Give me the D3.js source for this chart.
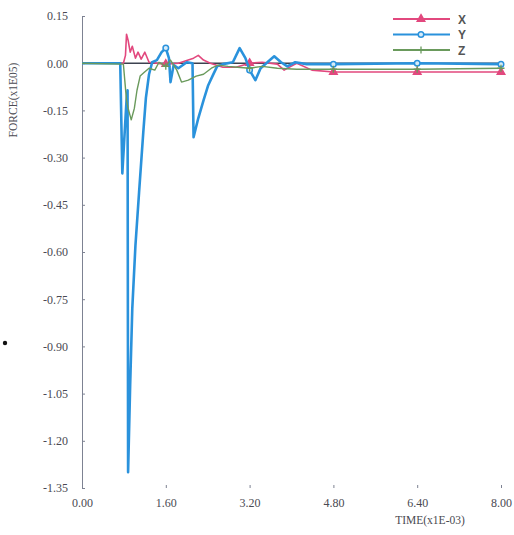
<!DOCTYPE html>
<html lang="en">
<head>
    <meta charset="UTF-8">
    <title>Force vs time</title>
    <style type="text/css">
        body { margin: 0; background: #fff; }
        .axis text { font-family: "Liberation Serif", serif; font-size: 12px; fill: #4a4a52; }
        .axis path, .axis line { stroke: #7d8292; }
        .line { fill: none; stroke-linejoin: round; }
        .title { font-family: "Liberation Serif", serif; font-size: 11.5px; fill: #4a4a52; }
        .legend text { font-family: "Liberation Sans", sans-serif; font-size: 12px; font-weight: bold; fill: #555; }
    </style>
</head>
<body></body>
<script src="https://d3js.org/d3.v7.min.js"></script>
<script>

    // tick values
    var xTicks = [0, 1.6, 3.2, 4.8, 6.4, 8.0];
    var yTicks = [0.15, 0, -0.15, -0.30, -0.45, -0.60, -0.75, -0.90, -1.05, -1.20, -1.35];
    var markerTimes = [1.6, 3.2, 4.8, 6.4, 8.0];

    // X component
    var timeX  = [0, 0.79, 0.83, 0.85, 0.88, 0.92, 0.96, 1.02, 1.07, 1.13, 1.20, 1.28, 1.56, 1.6, 1.84, 2.13, 2.22, 2.32, 2.45, 2.69, 2.94, 3.2, 3.44, 3.73, 3.86, 3.99, 4.1, 4.39, 4.8, 6.4, 8.0];
    var forceX = [0, 0, 0.025, 0.092, 0.073, 0.035, 0.054, 0.016, 0.035, 0.013, 0.035, 0.003, -0.003, -0.003, 0, 0.016, 0.025, 0.01, 0, -0.013, -0.013, 0, 0.003, -0.003, -0.022, -0.01, 0, -0.022, -0.028, -0.028, -0.028];

    // Y component
    var timeY  = [0, 0.73, 0.77, 0.85, 0.87, 0.88, 0.90, 0.92, 0.96, 1.02, 1.09, 1.17, 1.22, 1.28, 1.34, 1.43, 1.52, 1.6, 1.66, 1.69, 1.75, 1.84, 2.0, 2.11, 2.13, 2.22, 2.32, 2.41, 2.5, 2.58, 2.69, 2.88, 3.01, 3.12, 3.2, 3.31, 3.41, 3.54, 3.67, 3.8, 3.92, 4.07, 4.29, 4.8, 6.4, 8.0];
    var forceY = [0, 0, -0.35, -0.118, -0.086, -1.30, -1.16, -1.02, -0.78, -0.58, -0.41, -0.22, -0.11, -0.035, 0.003, 0.01, 0.035, 0.048, 0.016, -0.06, -0.006, -0.016, 0.003, 0, -0.235, -0.175, -0.118, -0.07, -0.038, -0.01, -0.003, 0.003, 0.048, 0.016, -0.022, -0.054, -0.016, 0.003, 0.022, 0.003, -0.01, 0.003, -0.003, -0.003, 0, -0.003];

    // Z component
    var timeZ  = [0, 0.79, 0.85, 0.88, 0.94, 1.0, 1.05, 1.11, 1.19, 1.28, 1.39, 1.47, 1.6, 1.69, 1.81, 1.9, 2.03, 2.18, 2.32, 2.47, 2.6, 2.79, 2.97, 3.2, 3.44, 3.73, 4.1, 4.8, 6.4, 8.0];
    var forceZ = [0, -0.003, -0.118, -0.143, -0.18, -0.143, -0.086, -0.041, -0.029, -0.016, -0.022, 0.003, -0.01, 0.01, -0.022, -0.06, -0.054, -0.041, -0.035, -0.016, -0.006, -0.01, -0.013, -0.016, -0.01, -0.016, -0.019, -0.019, -0.019, -0.016];

    var series = [
        {name: "X", t: timeX, v: forceX, color: "#e2487e", width: 1.6, marker: "triangle"},
        {name: "Y", t: timeY, v: forceY, color: "#2a92dc", width: 2.6, marker: "circle"},
        {name: "Z", t: timeZ, v: forceZ, color: "#6a9a5c", width: 1.4, marker: "plus"}
    ];

    var margin = {top: 16, right: 13, bottom: 47, left: 82},
        width = 514 - margin.left - margin.right,
        height = 535 - margin.top - margin.bottom;

    var xScale = d3.scaleLinear().domain([0, 8]).range([0, width]);
    var yScale = d3.scaleLinear().domain([-1.35, 0.15]).range([height, 0]);

    // plain hyphen for negatives, as in the scan
    var fmt = function(d) { return d3.format(".2f")(d).replace("\u2212", "-"); };

    var line = d3.line()
        .x(function(d) { return xScale(d[0]); })
        .y(function(d) { return yScale(d[1]); });

    var root = d3.select("body").append("svg")
        .attr("width", 514)
        .attr("height", 535);

    var svg = root.append("g")
        .attr("transform", "translate(" + margin.left + "," + margin.top + ")");

    // y axis, ticks pointing inward
    svg.append("g")
        .attr("class", "axis")
        .call(d3.axisLeft(yScale).tickValues(yTicks).tickSize(-3).tickPadding(14).tickFormat(fmt));

    // x tick labels along the bottom
    var xAxis = svg.append("g")
        .attr("class", "axis")
        .attr("transform", "translate(0," + height + ")")
        .call(d3.axisBottom(xScale).tickValues(xTicks).tickSize(-3).tickPadding(10).tickFormat(fmt));
    xAxis.select(".domain").remove();

    // zero line
    svg.append("line")
        .attr("x1", 0).attr("x2", width)
        .attr("y1", yScale(0)).attr("y2", yScale(0))
        .attr("stroke", "#3c4250")
        .attr("stroke-width", 1.5);

    series.forEach(function(s) {
        var pts = s.t.map(function(t, i) { return [t, s.v[i]]; });
        svg.append("path")
            .datum(pts)
            .attr("class", "line")
            .attr("stroke", s.color)
            .attr("stroke-width", s.width)
            .attr("d", line);

        var marks = pts.filter(function(d) { return markerTimes.indexOf(d[0]) >= 0; });
        drawMarkers(svg, marks.map(function(d) { return [xScale(d[0]), yScale(d[1])]; }), s);
    });

    function drawMarkers(g, xy, s) {
        var sym = s.marker === "triangle" ? d3.symbolTriangle : d3.symbolCircle;
        g.selectAll(null)
            .data(xy)
            .enter().append("path")
            .attr("transform", function(d) { return "translate(" + d[0] + "," + d[1] + ")"; })
            .attr("d", s.marker === "plus"
                ? "M-3.5,0H3.5M0,-3.5V3.5"
                : d3.symbol().type(sym).size(24)())
            .attr("fill", s.marker === "circle" ? "#d6ecfa" : s.color)
            .attr("stroke", s.color)
            .attr("stroke-width", s.marker === "plus" ? 1.3 : 1.5);
    }

    // legend
    var legend = root.append("g").attr("class", "legend");
    series.forEach(function(s, i) {
        var y = 19 + i * 15.5;
        legend.append("line")
            .attr("x1", 393).attr("x2", 450)
            .attr("y1", y).attr("y2", y)
            .attr("stroke", s.color)
            .attr("stroke-width", 2);
        drawMarkers(legend, [[421, y]], s);
        legend.append("text")
            .attr("x", 458).attr("y", y + 4.5)
            .text(s.name);
    });

    // axis titles
    root.append("text")
        .attr("class", "title")
        .attr("transform", "translate(17,100) rotate(-90)")
        .attr("text-anchor", "middle")
        .text("FORCE(x1E05)");

    root.append("text")
        .attr("class", "title")
        .attr("x", 430).attr("y", 524)
        .attr("text-anchor", "middle")
        .text("TIME(x1E-03)");

    // stray dot on the scan
    root.append("circle")
        .attr("cx", 5).attr("cy", 343).attr("r", 2.2)
        .attr("fill", "#111");
</script>
